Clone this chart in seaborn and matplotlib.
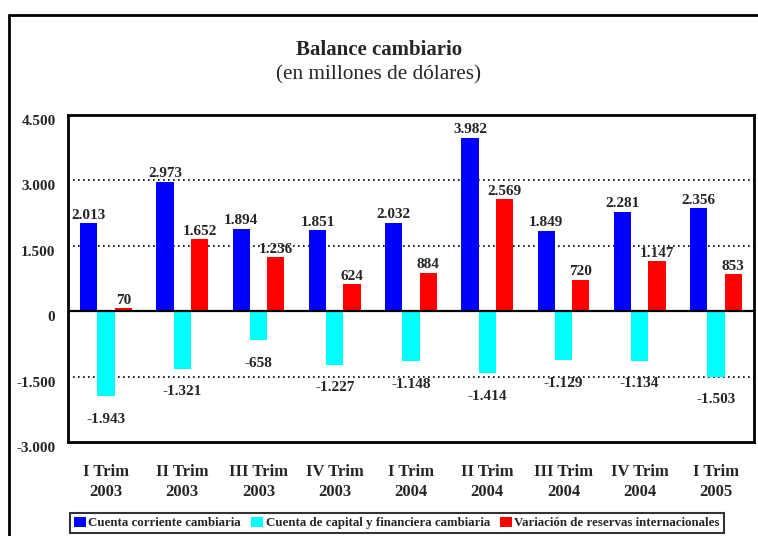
import matplotlib
matplotlib.use("Agg")
import matplotlib.pyplot as plt
import matplotlib.transforms as mtransforms
import seaborn as sns
import pandas as pd
from matplotlib.lines import Line2D
from matplotlib.patches import Patch

categories = ["I Trim\n2003", "II Trim\n2003", "III Trim\n2003", "IV Trim\n2003",
              "I Trim\n2004", "II Trim\n2004", "III Trim\n2004", "IV Trim\n2004",
              "I Trim\n2005"]
series_names = ["Cuenta corriente cambiaria",
                "Cuenta de capital y financiera cambiaria",
                "Variación de reservas internacionales"]
corriente = [2013, 2973, 1894, 1851, 2032, 3982, 1849, 2281, 2356]
capital = [-1943, -1321, -658, -1227, -1148, -1414, -1129, -1134, -1503]
reservas = [70, 1652, 1236, 624, 884, 2569, 720, 1147, 853]
yticks = [4500, 3000, 1500, 0, -1500, -3000]
colors = ["#0000FF", "#00FFFF", "#FF0000"]

def fmt(v):
    s = f"{abs(v):,}".replace(",", ".")
    return ("-" if v < 0 else "") + s

rows = []
for name, vals in zip(series_names, [corriente, capital, reservas]):
    for c, v in zip(categories, vals):
        rows.append({"cat": c, "serie": name, "valor": v})
df = pd.DataFrame(rows)

sns.set_style("white")
plt.rcParams["font.family"] = ["Liberation Serif", "DejaVu Serif"]

fig = plt.figure(figsize=(7.58, 5.36), dpi=100)
ax = fig.add_axes([68/758, 1-442/536, (754-68)/758, (442-115)/536])

sns.barplot(data=df, x="cat", y="valor", hue="serie", order=categories,
            hue_order=series_names, palette=colors, width=0.68, gap=0,
            saturation=1, ax=ax, legend=False, errorbar=None, linewidth=0)

ax.set_ylim(-3000, 4500)
ax.set_xlim(-0.5, len(categories) - 0.5)
ax.set_yticks(yticks)
ax.set_yticklabels([fmt(v) for v in yticks], fontweight="bold", fontsize=11)
ax.set_xticks(range(len(categories)))
ax.set_xticklabels(categories, fontweight="bold", fontsize=12, linespacing=1.35)
ax.tick_params(axis="y", length=0, pad=9)
ax.tick_params(axis="x", length=0, pad=16)
ax.set_xlabel("")
ax.set_ylabel("")
offset = mtransforms.ScaledTranslation(0, -5/100, fig.dpi_scale_trans)
for lbl in ax.get_yticklabels():
    lbl.set_transform(lbl.get_transform() + offset)

for y in [3000, 1500, -1500]:
    ax.axhline(y, color="black", linestyle=(0, (1, 2)), linewidth=1.2, zorder=0.5)
ax.axhline(0, color="black", linewidth=1.6, zorder=3)

for sp in ax.spines.values():
    sp.set_visible(True)
    sp.set_color("black")
    sp.set_linewidth(2)

for cont, vals in zip(ax.containers, [corriente, capital, reservas]):
    for bar, v in zip(cont, vals):
        bar.set_zorder(2)
        bar.set_edgecolor("none")
        x = bar.get_x() + bar.get_width() / 2
        if v >= 0:
            ax.annotate(fmt(v), (x, v), xytext=(0, 1), textcoords="offset points",
                        ha="center", va="bottom", fontsize=11, fontweight="bold")
        else:
            ax.annotate(fmt(v), (x, v), xytext=(0, -12), textcoords="offset points",
                        ha="center", va="top", fontsize=11, fontweight="bold")

fig.text(0.5, 1-50/536, "Balance cambiario", ha="center", va="center",
         fontsize=15, fontweight="bold")
fig.text(0.5, 1-75/536, "(en millones de dólares)", ha="center", va="center",
         fontsize=15.3)

handles = [Patch(facecolor=c, edgecolor="none") for c in colors]
leg = fig.legend(handles, series_names, loc="center", bbox_to_anchor=(397/758, 1-523/536),
                 ncol=3, frameon=True, handlelength=0.9, handleheight=0.9,
                 handletextpad=0.2, columnspacing=0.8, borderpad=0.3,
                 prop={"weight": "bold", "size": 9.3}, fancybox=False)
leg.get_frame().set_edgecolor("black")
leg.get_frame().set_linewidth(1.5)

# outer border
fig.add_artist(Line2D([9/758, 9/758], [0, 1-15/536], color="black", linewidth=2,
                      transform=fig.transFigure))
fig.add_artist(Line2D([9/758, 1], [1-15/536, 1-15/536], color="black", linewidth=2,
                      transform=fig.transFigure))

fig.savefig("out.png", dpi=100)
